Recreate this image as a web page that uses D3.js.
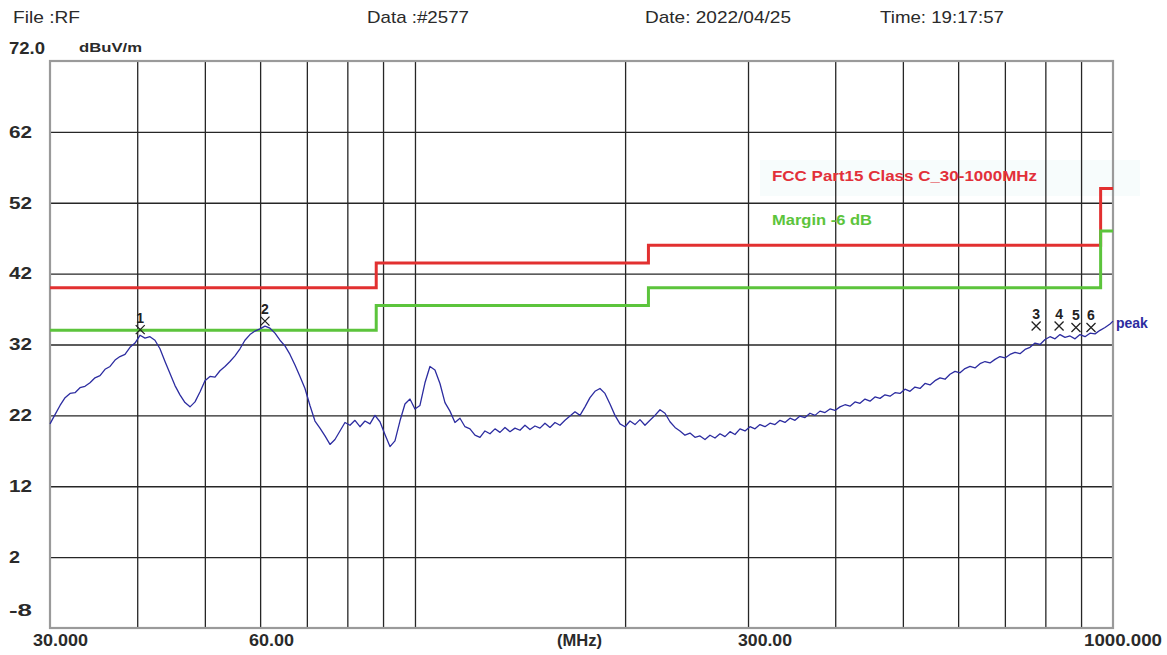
<!DOCTYPE html>
<html><head><meta charset="utf-8">
<script src="https://cdn.jsdelivr.net/npm/d3@7"></script>
<style>
html,body{margin:0;padding:0;background:#fff;}
svg{display:block;font-family:"Liberation Sans",Arial,sans-serif;}
</style></head>
<body><svg id="c" width="1167" height="655"></svg>
<script>
// ---- data ----
const headerTexts = ["File :RF", "Data :#2577", "Date: 2022/04/25", "Time: 19:17:57"];
const yTickValues = [62, 52, 42, 32, 22, 12, 2];
const yLabels = ["72.0", "62", "52", "42", "32", "22", "12", "2", "-8"];
const xGridValues = [40, 50, 60, 70, 80, 90, 100, 200, 300, 400, 500, 600, 700, 800, 900];
const xLabels = ["30.000", "60.00", "(MHz)", "300.00", "1000.000"];
const limitFreqs = [30, 88, 88, 216, 216, 960, 960, 1000];
const limitLevels = [40, 40, 43.5, 43.5, 46, 46, 54, 54];
const marginLevels = [34, 34, 37.5, 37.5, 40, 40, 48, 48];
const legendTexts = ["FCC Part15 Class C_30-1000MHz", "Margin -6 dB"];
const markerIds = ["1", "2", "3", "4", "5", "6"];
const markerFreqs = [40.4, 60.97, 776, 837, 885, 930];
const markerLevels = [34.1, 35.3, 34.6, 34.6, 34.4, 34.4];
const traceFreqs = [
30.00, 30.50, 31.01, 31.53, 32.05, 32.58, 33.12, 33.67, 34.23, 34.80,
35.38, 35.97, 36.57, 37.18, 37.79, 38.42, 39.06, 39.71, 40.37, 41.04,
41.72, 42.41, 43.12, 43.84, 44.57, 45.31, 46.06, 46.83, 47.61, 48.40,
49.20, 50.02, 50.85, 51.70, 52.56, 53.43, 54.32, 55.22, 56.14, 57.07,
58.02, 58.99, 59.97, 60.97, 61.98, 63.01, 64.06, 65.12, 66.21, 67.31,
68.43, 69.57, 70.72, 71.90, 73.09, 74.31, 75.55, 76.80, 78.08, 79.38,
80.70, 82.04, 83.40, 84.79, 86.20, 87.63, 89.09, 90.57, 92.08, 93.61,
95.16, 96.75, 98.36, 99.99, 101.65, 103.35, 105.06, 106.81, 108.59, 110.40,
112.23, 114.10, 116.00, 117.93, 119.89, 121.88, 123.91, 125.97, 128.07, 130.20,
132.36, 134.56, 136.80, 139.08, 141.39, 143.74, 146.13, 148.56, 151.03, 153.54,
156.10, 158.70, 161.33, 164.02, 166.75, 169.52, 172.34, 175.21, 178.12, 181.08,
184.09, 187.15, 190.27, 193.43, 196.65, 199.92, 203.24, 206.62, 210.06, 213.55,
217.10, 220.71, 224.39, 228.12, 231.91, 235.77, 239.69, 243.68, 247.73, 251.85,
256.04, 260.30, 264.63, 269.03, 273.50, 278.05, 282.68, 287.38, 292.16, 297.02,
301.96, 306.98, 312.08, 317.27, 322.55, 327.91, 333.37, 338.91, 344.55, 350.28,
356.10, 362.03, 368.05, 374.17, 380.39, 386.72, 393.15, 399.69, 406.34, 413.09,
419.97, 426.95, 434.05, 441.27, 448.61, 456.07, 463.66, 471.37, 479.21, 487.18,
495.28, 503.52, 511.89, 520.41, 529.06, 537.86, 546.81, 555.90, 565.15, 574.55,
584.10, 593.82, 603.69, 613.73, 623.94, 634.32, 644.87, 655.60, 666.50, 677.58,
688.85, 700.31, 711.96, 723.80, 735.84, 748.08, 760.52, 773.17, 786.03, 799.10,
812.39, 825.91, 839.64, 853.61, 867.80, 882.24, 896.91, 911.83, 927.00, 942.41,
958.09, 974.03, 990.23, 1000];
const traceLevels = [
20.8, 22.1, 23.4, 24.5, 25.1, 25.2, 25.9, 26.1, 26.6, 27.3,
27.6, 28.5, 28.9, 29.8, 30.3, 30.6, 31.6, 32.2, 33.3, 32.9,
33.1, 32.6, 31.4, 29.6, 27.9, 26.2, 24.9, 23.8, 23.2, 23.9,
25.3, 26.9, 27.5, 27.4, 28.3, 28.9, 29.6, 30.4, 31.4, 32.6,
33.4, 33.9, 34.2, 34.6, 34.3, 33.6, 32.6, 31.8, 30.6, 29.1,
27.5, 25.8, 23.4, 21.2, 20.2, 19.1, 17.9, 18.6, 19.8, 21.0,
20.6, 21.3, 20.4, 21.2, 20.8, 22.0, 21.1, 19.3, 17.6, 18.4,
21.2, 23.6, 24.3, 22.9, 23.4, 26.6, 28.9, 28.4, 26.5, 23.8,
22.6, 21.0, 21.6, 20.4, 20.1, 19.2, 18.9, 19.8, 19.4, 20.1,
19.6, 20.3, 19.7, 20.2, 19.9, 20.6, 20.0, 20.5, 20.2, 20.9,
20.3, 21.0, 20.6, 21.3, 21.9, 22.5, 22.0, 23.2, 24.5, 25.4,
25.8, 25.1, 23.6, 22.0, 20.8, 20.4, 21.2, 20.7, 21.4, 20.6,
21.3, 22.0, 22.8, 22.3, 21.1, 20.3, 19.8, 19.2, 19.5, 18.9,
19.1, 18.6, 19.2, 18.8, 19.4, 19.0, 19.7, 19.3, 20.1, 19.8,
20.4, 20.1, 20.7, 20.4, 20.9, 20.7, 21.3, 21.0, 21.6, 21.3,
21.9, 21.7, 22.3, 22.0, 22.6, 22.4, 22.9, 22.7, 23.2, 23.5,
23.3, 23.9, 23.7, 24.3, 24.0, 24.6, 24.4, 24.9, 24.7, 25.2,
25.1, 25.7, 25.4, 26.0, 25.8, 26.5, 26.3, 26.9, 27.3, 27.1,
27.8, 28.2, 28.0, 28.6, 28.9, 28.7, 29.3, 29.6, 29.4, 29.9,
30.3, 30.1, 30.6, 30.9, 30.7, 31.3, 31.6, 32.2, 32.0, 32.7,
33.1, 32.8, 33.4, 33.0, 33.2, 32.8, 33.4, 33.1, 33.6, 33.5,
34.0, 34.4, 34.9, 35.3];

// ---- chart ----
const svg = d3.select("#c");
const L = 50, R = 1113, T = 61, B = 628;
const x = d3.scaleLog().domain([30, 1000]).range([L, R]);
const y = d3.scaleLinear().domain([-8, 72]).range([B, T]);

// faint legend backdrop
svg.append("rect").attr("x", 760).attr("y", 160).attr("width", 380).attr("height", 36).attr("fill", "#f7fcfc");

// header
const headerX = [13, 367, 645, 880], headerW = [67, 102, 146, 124];
svg.selectAll("text.hdr").data(headerTexts).join("text").attr("class", "hdr")
  .attr("x", (d, i) => headerX[i]).attr("y", 23)
  .attr("textLength", (d, i) => headerW[i]).attr("lengthAdjust", "spacingAndGlyphs")
  .attr("font-size", 17).attr("fill", "#2a2a2a").text(d => d);

// grid
const gx = svg.append("g").attr("transform", `translate(0,${B})`)
  .call(d3.axisBottom(x).tickValues(xGridValues).tickSize(-(B - T)).tickFormat(""));
gx.select(".domain").remove();
gx.selectAll("line").attr("stroke", "#262626").attr("stroke-width", 1.3);
const gy = svg.append("g").attr("transform", `translate(${L},0)`)
  .call(d3.axisLeft(y).tickValues(yTickValues).tickSize(-(R - L)).tickFormat(""));
gy.select(".domain").remove();
gy.selectAll("line").attr("stroke", "#262626").attr("stroke-width", 1.3);

// frame
svg.append("rect").attr("x", L).attr("y", T).attr("width", R - L).attr("height", B - T)
  .attr("fill", "none").attr("stroke", "#9a9a9a").attr("stroke-width", 2.2);

// y labels
const yLabelPos = [48, y(62), y(52), y(42), y(32), y(22), y(12), y(2), 610];
svg.selectAll("text.yl").data(yLabels).join("text").attr("class", "yl")
  .attr("x", 9).attr("y", (d, i) => yLabelPos[i]).attr("dy", "0.36em")
  .attr("font-size", 16).attr("font-weight", "bold").attr("fill", "#2a2a2a")
  .attr("textLength", d => d.length === 1 ? 11 : (d.length === 2 ? 23 : 36))
  .attr("lengthAdjust", "spacingAndGlyphs").text(d => d);
svg.append("text").attr("x", 79).attr("y", 52).attr("font-size", 13).attr("font-weight", "bold")
  .attr("fill", "#2a2a2a").attr("textLength", 63).attr("lengthAdjust", "spacingAndGlyphs").text("dBuV/m");

// x labels
const xLabelX = [33, 249, 557, 738, 1084], xLabelW = [55, 45, 45, 54, 78];
svg.selectAll("text.xl").data(xLabels).join("text").attr("class", "xl")
  .attr("x", (d, i) => xLabelX[i]).attr("y", 646)
  .attr("textLength", (d, i) => xLabelW[i]).attr("lengthAdjust", "spacingAndGlyphs")
  .attr("font-size", 16).attr("font-weight", "bold").attr("fill", "#2a2a2a").text(d => d);

// limit lines
const lineGen = d3.line().x(d => x(d[0])).y(d => y(d[1]));
svg.append("path").datum(limitFreqs.map((f, i) => [f, limitLevels[i]]))
  .attr("d", lineGen).attr("fill", "none").attr("stroke", "#e23030").attr("stroke-width", 3);
svg.append("path").datum(limitFreqs.map((f, i) => [f, marginLevels[i]]))
  .attr("d", lineGen).attr("fill", "none").attr("stroke", "#5cc43c").attr("stroke-width", 3);

// legend
svg.append("text").attr("x", 772).attr("y", 181).attr("font-size", 14).attr("font-weight", "bold")
  .attr("fill", "#e2303a").attr("textLength", 265).attr("lengthAdjust", "spacingAndGlyphs").text(legendTexts[0]);
svg.append("text").attr("x", 772).attr("y", 225).attr("font-size", 14).attr("font-weight", "bold")
  .attr("fill", "#5cc43c").attr("textLength", 100).attr("lengthAdjust", "spacingAndGlyphs").text(legendTexts[1]);

// trace
svg.append("path").datum(traceFreqs.map((f, i) => [f, traceLevels[i]]))
  .attr("d", lineGen).attr("fill", "none").attr("stroke", "#2c2ca0").attr("stroke-width", 1.3)
  .attr("stroke-linejoin", "round");
svg.append("text").attr("x", 1116).attr("y", 328).attr("font-size", 14).attr("font-weight", "bold")
  .attr("fill", "#2c2ca0").text("peak");

// markers
const mk = svg.selectAll("g.mk").data(markerIds).join("g").attr("class", "mk")
  .attr("transform", (d, i) => `translate(${x(markerFreqs[i])},${y(markerLevels[i])})`);
mk.append("path").attr("d", "M-4.5,-4.5L4.5,4.5M-4.5,4.5L4.5,-4.5").attr("stroke", "#222").attr("stroke-width", 1.3);
mk.append("text").attr("x", 0).attr("y", -7).attr("text-anchor", "middle")
  .attr("font-size", 14).attr("font-weight", "bold").attr("fill", "#222").text(d => d);
</script></body></html>
